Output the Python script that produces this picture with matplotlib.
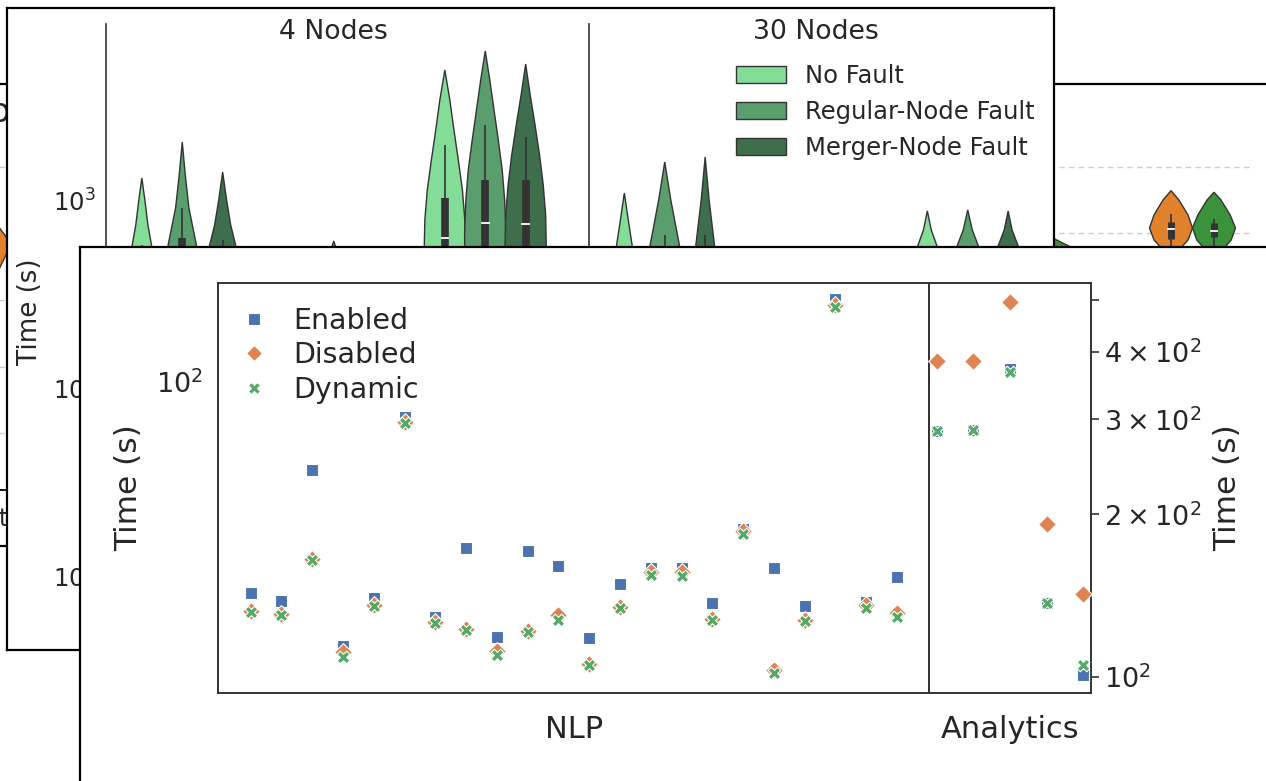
import numpy as np
import matplotlib
matplotlib.use("Agg")
import matplotlib.pyplot as plt
from matplotlib.patches import Patch
from matplotlib.lines import Line2D
from matplotlib import ticker

plt.rcParams['font.family'] = ['DejaVu Sans']
TXT = '#262626'
EDGE = '#333333'

# ---------------------------------------------------------------- data
# front chart (scatter): NLP jobs (left axis) and Analytics jobs (right axis)
scatter_series = ["Enabled", "Disabled", "Dynamic"]
scatter_colors = ["#4c72b0", "#dd8452", "#55a868"]
scatter_markers = ["s", "D", "X"]
nlp_enabled = [29.7, 28.4, 60.3, 21.9, 28.8, 81.8, 25.9, 38.5, 23.1, 37.9, 34.7,
               22.9, 31.2, 34.2, 34.2, 28.0, 42.8, 34.3, 27.5, 161.0, 28.1, 32.5]
nlp_disabled = [26.8, 26.3, 36.1, 21.1, 27.7, 79.4, 25.1, 24.1, 21.3, 23.9, 26.1,
                19.7, 27.4, 33.5, 33.5, 25.6, 42.5, 19.1, 25.4, 155.7, 27.7, 26.4]
nlp_dynamic = [26.6, 26.1, 35.9, 20.5, 27.5, 79.0, 25.0, 24.0, 20.8, 23.7, 25.4,
               19.6, 27.2, 32.9, 32.8, 25.4, 41.7, 18.7, 25.2, 153.8, 27.2, 25.9]
ana_enabled = [285.8, 286.7, 371.9, 136.8, 100.7]
ana_disabled = [385.2, 385.0, 495.6, 191.9, 142.1]
ana_dynamic = [285.8, 286.7, 367.6, 136.8, 105.1]
nlp_ylim = (16.66, 177.1)
ana_ylim = (93.17, 537.4)

# middle chart (violins)
facets = ["4 Nodes", "30 Nodes"]
fault_types = ["No Fault", "Regular-Node Fault", "Merger-Node Fault"]
fault_colors = ["#83dc97", "#5a9e6e", "#3e6e4c"]
# outline of each violin: time values from the tip downwards, half widths (category units)
violin_vals = {
    ("4 Nodes", 0, 0): [1309, 1000, 736, 562, 300, 120, 60],
    ("4 Nodes", 0, 1): [2034, 1358, 907, 562, 300, 120, 60],
    ("4 Nodes", 0, 2): [1409, 1000, 736, 562, 300, 120, 60],
    ("4 Nodes", 1, 0): [480, 300, 150, 80],
    ("4 Nodes", 1, 1): [605, 562, 300, 150, 80],
    ("4 Nodes", 1, 2): [520, 300, 150, 80],
    ("4 Nodes", 2, 0): [4915, 3403, 2357, 1632, 1130, 783, 562, 400, 250, 150],
    ("4 Nodes", 2, 1): [6204, 4347, 3011, 2085, 1444, 1000, 692, 562, 400, 250, 150],
    ("4 Nodes", 2, 2): [5289, 3618, 2505, 1735, 1202, 832, 562, 400, 250, 150],
    ("30 Nodes", 0, 0): [1089, 783, 562, 300, 150, 80],
    ("30 Nodes", 0, 1): [1593, 1000, 562, 300, 150, 80],
    ("30 Nodes", 0, 2): [1693, 1000, 562, 300, 150, 80],
    ("30 Nodes", 1, 0): [450, 250, 120, 60],
    ("30 Nodes", 1, 1): [450, 250, 120, 60],
    ("30 Nodes", 1, 2): [450, 250, 120, 60],
    ("30 Nodes", 2, 0): [874, 692, 562, 350, 200, 100],
    ("30 Nodes", 2, 1): [885, 692, 562, 350, 200, 100],
    ("30 Nodes", 2, 2): [874, 692, 562, 350, 200, 100],
}
violin_widths = {
    ("4 Nodes", 0, 0): [0, 0.020, 0.040, 0.066, 0.110, 0.120, 0],
    ("4 Nodes", 0, 1): [0, 0.020, 0.044, 0.096, 0.125, 0.120, 0],
    ("4 Nodes", 0, 2): [0, 0.026, 0.053, 0.089, 0.125, 0.120, 0],
    ("4 Nodes", 1, 0): [0, 0.08, 0.12, 0],
    ("4 Nodes", 1, 1): [0, 0.013, 0.09, 0.12, 0],
    ("4 Nodes", 1, 2): [0, 0.08, 0.12, 0],
    ("4 Nodes", 2, 0): [0, 0.033, 0.060, 0.089, 0.116, 0.132, 0.136, 0.12, 0.06, 0],
    ("4 Nodes", 2, 1): [0, 0.030, 0.058, 0.086, 0.112, 0.128, 0.136, 0.136, 0.12, 0.06, 0],
    ("4 Nodes", 2, 2): [0, 0.030, 0.062, 0.092, 0.116, 0.132, 0.136, 0.12, 0.06, 0],
    ("30 Nodes", 0, 0): [0, 0.026, 0.053, 0.09, 0.1, 0],
    ("30 Nodes", 0, 1): [0, 0.040, 0.099, 0.12, 0.1, 0],
    ("30 Nodes", 0, 2): [0, 0.026, 0.063, 0.1, 0.1, 0],
    ("30 Nodes", 1, 0): [0, 0.1, 0.12, 0],
    ("30 Nodes", 1, 1): [0, 0.1, 0.12, 0],
    ("30 Nodes", 1, 2): [0, 0.1, 0.12, 0],
    ("30 Nodes", 2, 0): [0, 0.026, 0.066, 0.11, 0.1, 0],
    ("30 Nodes", 2, 1): [0, 0.030, 0.073, 0.11, 0.1, 0],
    ("30 Nodes", 2, 2): [0, 0.026, 0.069, 0.11, 0.1, 0],
}
# box stats: low whisker, q1, median, q3, high whisker
violin_box = {
    ("4 Nodes", 0, 0): [150, 250, 350, 450, 575],
    ("4 Nodes", 0, 1): [150, 250, 400, 628, 907],
    ("4 Nodes", 0, 2): [150, 250, 350, 450, 613],
    ("4 Nodes", 2, 0): [250, 400, 628, 1025, 1962],
    ("4 Nodes", 2, 1): [250, 450, 755, 1277, 2505],
    ("4 Nodes", 2, 2): [250, 450, 745, 1277, 2163],
    ("30 Nodes", 0, 1): [150, 200, 300, 400, 651],
    ("30 Nodes", 0, 2): [150, 200, 300, 400, 651],
}

# back chart (violins, orange / green)
back_colors = ["#e1812c", "#3a923a"]
back_violins = [  # (group, hue, values from tip down, half widths)
    (0, 0, [4.3, 4.0, 3.87, 3.7, 3.4, 3.0], [0, 0.14, 0.2, 0.17, 0.08, 0]),
    (9, 1, [4.2, 3.92, 3.8, 3.5, 3.2], [0, 0.512, 0.66, 0.5, 0]),
    (11, 0, [4.64, 4.5, 4.276, 4.08, 3.9, 3.8, 3.6, 3.3, 2.9],
     [0, 0.074, 0.158, 0.2, 0.158, 0.102, 0.056, 0.028, 0]),
    (11, 1, [4.616, 4.5, 4.276, 4.08, 3.9, 3.8, 3.6, 3.3, 2.9],
     [0, 0.065, 0.15, 0.2, 0.16, 0.105, 0.056, 0.028, 0]),
]
back_box = {(11, 0): [3.5, 3.916, 4.06, 4.175, 4.29],
            (11, 1): [3.6, 3.95, 4.04, 4.16, 4.22]}
back_grid = [1, 2, 3, 4, 5]

# ---------------------------------------------------------------- helpers
W, H = 1266, 781
fig = plt.figure(figsize=(W / 100, H / 100), dpi=100)
fig.patch.set_facecolor('white')


def rect(x0, y0, x1, y1):
    return [x0 / W, 1 - y1 / H, (x1 - x0) / W, (y1 - y0) / H]


def fx(x):
    return x / W


def fy(y):
    return 1 - y / H


def panel(x0, y0, x1, y1, z):
    ax = fig.add_axes(rect(x0, y0, x1, y1), zorder=z)
    ax.set_facecolor('white')
    ax.set_xticks([])
    ax.set_yticks([])
    for s in ax.spines.values():
        s.set_linewidth(1.6)
        s.set_color('black')
    return ax


def violin(ax, xc, vals, widths, color):
    w = np.asarray(widths, float)
    v = np.asarray(vals, float)
    xs = np.concatenate([xc + w, (xc - w)[::-1]])
    ys = np.concatenate([v, v[::-1]])
    ax.fill(xs, ys, facecolor=color, edgecolor=EDGE, linewidth=1.0, zorder=2)


def inner_box(ax, xc, stats, box_lw, half_med):
    lo, q1, med, q3, hi = stats
    ax.plot([xc, xc], [lo, hi], color=EDGE, lw=1.2, solid_capstyle='butt', zorder=3)
    ax.plot([xc, xc], [q1, q3], color=EDGE, lw=box_lw, solid_capstyle='butt', zorder=3)
    ax.plot([xc - half_med, xc + half_med], [med, med], color='white', lw=1.3, zorder=4)


# ---------------------------------------------------------------- back layer
panel(-10, 84, 1300, 546, 1)
axb = fig.add_axes(rect(-20, 100, 1254, 490), zorder=2)
axb.set_facecolor('none')
for k in ['left', 'top', 'right']:
    axb.spines[k].set_visible(False)
axb.spines['bottom'].set_color('black')
axb.spines['bottom'].set_linewidth(1.3)
axb.set_ylim(0.15, 6.0)
axb.set_xlim(-0.279, 11.572)
axb.set_yticks(back_grid)
axb.set_yticklabels([])
axb.set_xticks([])
axb.tick_params(length=0)
axb.grid(axis='y', color='#cccccc', lw=1.0, ls=(0, (4, 3)))
axb.set_axisbelow(True)
for g, hue, vals, wid in back_violins:
    xc = g + (-0.2 if hue == 0 else 0.2)
    violin(axb, xc, vals, wid, back_colors[hue])
    if (g, hue) in back_box:
        inner_box(axb, xc, back_box[(g, hue)], 5.0, 0.025)
axb.text(fx(-1), fy(112), "o", fontsize=24, color=TXT, ha='center', va='center',
         transform=fig.transFigure)
axb.text(fx(7.5), fy(519), "t", fontsize=17, color=TXT, ha='right', va='center',
         transform=fig.transFigure)

# ---------------------------------------------------------------- violin layer
panel(7.3, 8.3, 1054, 650, 3)
facet_boxes = [(106.5, 561), (589, 1043.5)]
v_top, v_bot = 24, 600
v_ylim = (10 ** (3 + (200 - v_bot) / 188), 10 ** (3 + (200 - v_top) / 188))
offsets = [-0.2667, 0.0, 0.2667]
vaxes = []
for fi, facet in enumerate(facets):
    x0, x1 = facet_boxes[fi]
    ax = fig.add_axes(rect(x0, v_top, x1, v_bot), zorder=4)
    ax.set_facecolor('none')
    ax.set_yscale('log')
    ax.set_ylim(*v_ylim)
    ax.set_xlim(-0.5, 2.5)
    for k in ['top', 'right', 'bottom']:
        ax.spines[k].set_visible(False)
    ax.spines['left'].set_color(EDGE)
    ax.spines['left'].set_linewidth(1.2)
    ax.set_xticks([])
    ax.tick_params(axis='y', which='both', length=0, pad=7.8, labelsize=17.6,
                   labelcolor=TXT)
    ax.yaxis.set_minor_formatter(ticker.NullFormatter())
    if fi > 0:
        ax.tick_params(axis='y', labelleft=False)
    for g in range(3):
        for h in range(3):
            key = (facet, g, h)
            xc = g + offsets[h]
            violin(ax, xc, violin_vals[key], violin_widths[key], fault_colors[h])
            if key in violin_box:
                inner_box(ax, xc, violin_box[key], 5.5, 0.022)
    ax.text(0.5, (v_bot - 32) / (v_bot - v_top), facet, transform=ax.transAxes,
            ha='center', va='center', fontsize=19.2, color=TXT)
    vaxes.append(ax)
vaxes[0].set_ylabel("Time (s)", fontsize=18.8, color=TXT, va='center')
vaxes[0].yaxis.set_label_coords((30 - 106.5) / (561 - 106.5), (v_bot - 312) / (v_bot - v_top))
vh = [Patch(facecolor=c, edgecolor=EDGE, linewidth=1.0) for c in fault_colors]
vleg = vaxes[1].legend(vh, fault_types, loc='upper left',
                       bbox_to_anchor=(fx(736), fy(64)), bbox_transform=fig.transFigure,
                       frameon=False, borderpad=0, borderaxespad=0, handlelength=2.04,
                       handleheight=0.7, handletextpad=0.8, labelspacing=0.5,
                       fontsize=17.5)
for t in vleg.get_texts():
    t.set_color(TXT)

# ---------------------------------------------------------------- front layer
panel(80, 247, 1300, 800, 5)
ax_n = fig.add_axes(rect(218.3, 282.7, 929.3, 693.3), zorder=6)
ax_a = fig.add_axes(rect(929.3, 282.7, 1090.7, 693.3), zorder=6)
nlp_x = np.arange(len(nlp_enabled))
ana_x = np.arange(len(ana_enabled))
for ser, vals_n, vals_a in zip(range(3), [nlp_enabled, nlp_disabled, nlp_dynamic],
                               [ana_enabled, ana_disabled, ana_dynamic]):
    kw = dict(marker=scatter_markers[ser], s=82, color=scatter_colors[ser],
              edgecolors='white', linewidths=0.8, zorder=3 + ser)
    ax_n.scatter(nlp_x, vals_n, **kw)
    ax_a.scatter(ana_x, vals_a, clip_on=False, **kw)
for ax in (ax_n, ax_a):
    ax.set_facecolor('none')
    ax.set_yscale('log')
    ax.set_xticks([])
    for s in ax.spines.values():
        s.set_color(EDGE)
        s.set_linewidth(1.4)
ax_n.set_xlim(-1.05, 22.05)
ax_n.set_ylim(*nlp_ylim)
ax_n.yaxis.set_minor_formatter(ticker.NullFormatter())
ax_n.tick_params(axis='y', which='both', length=0, pad=11, labelsize=19.5, labelcolor=TXT)
ax_a.set_xlim(-0.2, 4.2)
ax_a.set_ylim(*ana_ylim)
ax_a.yaxis.tick_right()
ax_a.yaxis.set_label_position('right')
ax_a.tick_params(axis='y', which='both', length=5.5, width=1.2, color=EDGE, pad=4,
                 labelsize=19.5, labelcolor=TXT)

ax_n.set_xlabel("NLP", fontsize=22, color=TXT, va='center')
ax_n.xaxis.set_label_coords(0.5, (693.3 - 730) / 410.6)
ax_a.set_xlabel("Analytics", fontsize=22, color=TXT, va='center')
ax_a.xaxis.set_label_coords(0.5, (693.3 - 730) / 410.6)
ax_n.set_ylabel("Time (s)", fontsize=22.5, color=TXT, va='center')
ax_n.yaxis.set_label_coords((128.5 - 218.3) / 711.0, 0.5)
ax_a.set_ylabel("Time (s)", fontsize=22.5, color=TXT, va='center', rotation=90)
ax_a.yaxis.set_label_coords((1227.5 - 929.3) / 161.4, 0.5)

sh = [Line2D([], [], ls='', marker=m, markersize=8.5, markerfacecolor=c,
             markeredgecolor='white', markeredgewidth=0.8)
      for m, c in zip(scatter_markers, scatter_colors)]
sleg = ax_n.legend(sh, scatter_series, loc='upper left',
                   bbox_to_anchor=(fx(239.75), fy(306.5)), bbox_transform=fig.transFigure,
                   frameon=False, borderpad=0, borderaxespad=0, handlelength=1.0,
                   handletextpad=0.87, labelspacing=0.23, fontsize=20.5)
for t in sleg.get_texts():
    t.set_color(TXT)

fig.savefig("out.png", dpi=100, facecolor='white')
